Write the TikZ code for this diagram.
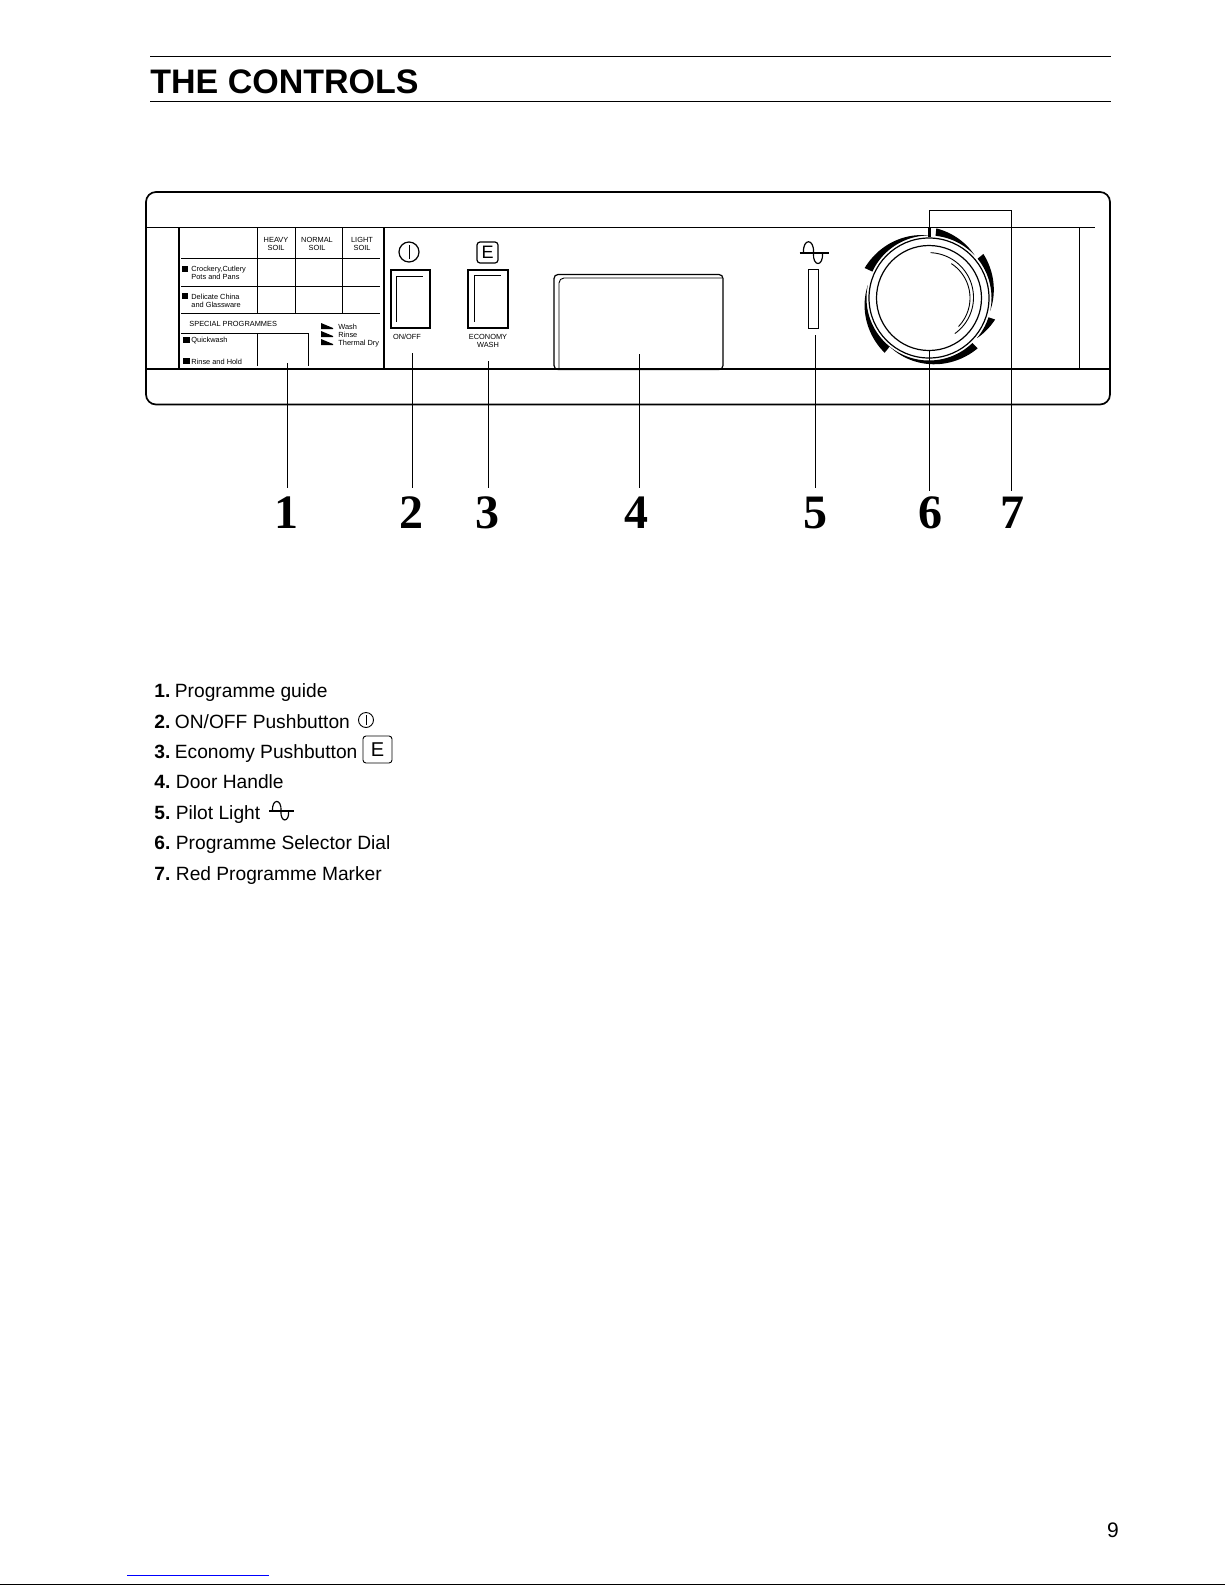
\documentclass[tikz,border=0pt]{standalone}
\usepackage{fontspec}
\setmainfont{Liberation Sans}
\newfontfamily\digitfont{Liberation Serif}
\newcommand{\crescent}[3]{%
  \fill[black] plot[domain=#1:#2,samples=30] ({929+62.5*cos(\x)},{298-62.5*sin(\x)})
    -- plot[domain=#2:#1,samples=30] ({929+(62.5+(#3-62.5)*(\x-(#2))/((#1)-(#2)))*cos(\x)},{298-(62.5+(#3-62.5)*(\x-(#2))/((#1)-(#2)))*sin(\x)}) -- cycle;}
\tikzset{
  x=0.5bp,y=-0.5bp,
  thinln/.style={line width=0.45bp,black},
  medln/.style={line width=0.6bp,black},
  heavyln/.style={line width=0.85bp,black},
  tiny/.style={anchor=base,inner sep=0pt,font=\fontsize{3.7bp}{4bp}\selectfont},
  tinyw/.style={anchor=base west,inner sep=0pt,font=\fontsize{3.7bp}{4bp}\selectfont},
  liste/.style={anchor=base west,inner sep=0pt,font=\fontsize{9.6bp}{12bp}\selectfont},
  listn/.style={anchor=base west,inner sep=0pt,font=\fontsize{9.6bp}{12bp}\selectfont\bfseries},
  bignum/.style={anchor=base,inner sep=0pt,font=\fontsize{24bp}{26bp}\selectfont\digitfont\bfseries},
  wavesym/.pic={
    \draw[medln] (-14,0) -- (15,0);
    \draw[medln] (-10,0) .. controls (-11,-15) and (1,-15) .. (0,0) .. controls (-1,14) and (10,14) .. (9,0);
  }
}
\begin{document}
\begin{tikzpicture}
\useasboundingbox (0,0) rectangle (1225,1585);
\fill[white] (0,0) rectangle (1225,1585);
% header
\node[anchor=base west,inner sep=0pt,font=\fontsize{17bp}{20bp}\selectfont\bfseries] (title) at (150,93) {THE CONTROLS};
\draw[thinln] (150,56) -- (1111,56);
\draw[thinln] (150,101) -- (1111,101);
% panel
\draw[heavyln,rounded corners=5bp] (146,192) rectangle (1110,404.5);
\draw[thinln] (146,227.5) -- (1095,227.5);
\draw[medln] (146,369) -- (1110,369);
\draw[thinln] (1079,227.5) -- (1079,369);
% guide
\draw[heavyln] (179,227.5) rectangle (384,369);
\foreach \yy in {258,286,313} \draw[thinln] (181,\yy) -- (380,\yy);
\foreach \xx in {295,342} \draw[thinln] (\xx,227.5) -- (\xx,313);
\draw[thinln] (257,227.5) -- (257,313);
\draw[thinln] (181,333) -- (308,333);
\draw[thinln] (257,333) -- (257,366);
\draw[thinln] (308,333) -- (308,366);
\node[tiny] (h1) at (276,242) {HEAVY};
\node[tiny] (h2) at (276,250) {SOIL};
\node[tiny] (n1a) at (317,242) {NORMAL};
\node[tiny] (n2a) at (317,250) {SOIL};
\node[tiny] (l1a) at (362,242) {LIGHT};
\node[tiny] (l2a) at (362,250) {SOIL};
\fill (182,266) rectangle (188,272);
\fill (182,293) rectangle (188,299);
\fill (183,337) rectangle (190,343);
\fill (183,358) rectangle (190,364);
\node[tinyw] (r1) at (191,271) {Crockery,Cutlery};
\node[tinyw] (r2) at (191,279) {Pots and Pans};
\node[tinyw] (r3) at (191,299) {Delicate China};
\node[tinyw] (r4) at (191,307) {and Glassware};
\node[tinyw] (sp) at (189,326) {SPECIAL PROGRAMMES};
\node[tinyw] (qw) at (191,342) {Quickwash};
\node[tinyw] (rh) at (191,364) {Rinse and Hold};
\foreach \yy in {323,331,339} \fill (321,\yy) -- (333,\yy+5) -- (333,\yy+6) -- (321,\yy+6) -- cycle;
\node[tinyw] (wa) at (338,329) {Wash};
\node[tinyw] (ri) at (338,337) {Rinse};
\node[tinyw] (td) at (338,345) {Thermal Dry};
% on/off
\draw[medln] (409,252) circle (10);
\draw[thinln] (409,245) -- (409,259);
\draw[heavyln] (391,270) rectangle (430,328);
\draw[thinln] (396,322) -- (396,276) -- (423,276);
\node[tiny] (onoff) at (407,339) {ON/OFF};
% economy
\draw[medln,rounded corners=1.5bp] (477,242) rectangle (498,263);
\node[inner sep=0pt,font=\fontsize{9bp}{10bp}\selectfont] (esym) at (487.5,252.5) {E};
\draw[heavyln] (468,270) rectangle (508,328);
\draw[thinln] (474,322) -- (474,275) -- (501,275);
\node[tiny] (eco) at (488,339) {ECONOMY};
\node[tiny] (wash) at (488,347) {WASH};
% door handle
\draw[medln,rounded corners=2bp] (554,274.5) rectangle (723,369.5);
\draw[thinln,rounded corners=2.5bp] (559,369) -- (559,278) -- (722,278);
% pilot
\pic at (813.5,253) {wavesym};
\draw[thinln] (808,269) rectangle (818,328);
% dial
\crescent{84}{43}{70}
\crescent{39}{-12}{70}
\crescent{-18}{-40}{69.5}
\crescent{-46}{-130}{70}
\crescent{-129}{-192}{70.5}
\crescent{155}{90}{71}
\draw[medln] (929,298) circle (52.5);
\draw[medln] (929,298) circle (60);
\draw[thinln] plot[domain=88:-54,samples=40] ({929+(44.5+0.01*\x)*cos(\x)},{298-(44.5+0.01*\x)*sin(\x)});
\draw[thinln] plot[domain=57:-44,samples=40] ({929+41*cos(\x)},{298-41*sin(\x)});
\draw[line width=1.5bp] (929.5,227) -- (929.5,237);
% leaders and numbers
\node[bignum] (d1) at (286,528) {1};
\node[bignum] (d2) at (411,528) {2};
\node[bignum] (d3) at (487,528) {3};
\node[bignum] (d4) at (636,528) {4};
\node[bignum] (d5) at (815,528) {5};
\node[bignum] (d6) at (930,528) {6};
\node[bignum] (d7) at (1012,528) {7};
\coordinate (s1) at (287,363);
\coordinate (s2) at (412,353);
\coordinate (s3) at (488,361);
\coordinate (s4) at (639,354);
\coordinate (s5) at (815,335);
\coordinate (s6) at (929,350);
\coordinate (s7) at (929,227);
\coordinate (k7a) at (929,210);
\coordinate (k7b) at (1011,210);
\foreach \i/\ee in {1/488,2/488,3/488,4/488,5/488,6/491}
  \draw[thinln] (s\i) -- (s\i |- 0,\ee);
\draw[thinln] (s7) -- (k7a) -- (k7b) -- (k7b |- 0,491);
% list
\node[listn] (a1) at (154,697) {1.};
\node[liste] (b1) at (174.5,697) {Programme guide};
\node[listn] (a2) at (154,728) {2.};
\node[liste] (b2) at (174.5,728) {ON/OFF Pushbutton};
\draw[thinln] (366,720) circle (7.5);
\draw[thinln] (366,715) -- (366,725);
\node[listn] (a3) at (154,758) {3.};
\node[liste] (b3) at (174.5,758) {Economy Pushbutton};
\draw[thinln,rounded corners=1.5bp] (363,736) rectangle (392,763);
\node[inner sep=0pt,font=\fontsize{10bp}{12bp}\selectfont] (e2) at (377.5,749.5) {E};
\node[listn] (a4) at (154,788) {4.};
\node[liste] (b4) at (175.5,788) {Door Handle};
\node[listn] (a5) at (154,819) {5.};
\node[liste] (b5) at (175.5,819) {Pilot Light};
\pic[scale=0.85] at (281,811) {wavesym};
\node[listn] (a6) at (154,849) {6.};
\node[liste] (b6) at (175.5,849) {Programme Selector Dial};
\node[listn] (a7) at (154,880) {7.};
\node[liste] (b7) at (175.5,880) {Red Programme Marker};
% page number and page edge
\node[anchor=base,inner sep=0pt,font=\fontsize{10.5bp}{12bp}\selectfont] (pg) at (1113,1537) {9};
\draw[line width=0.5bp,blue] (127,1575) -- (269,1575);
\draw[line width=0.5bp,black] (0,1584) -- (1225,1584);
\end{tikzpicture}
\end{document}
